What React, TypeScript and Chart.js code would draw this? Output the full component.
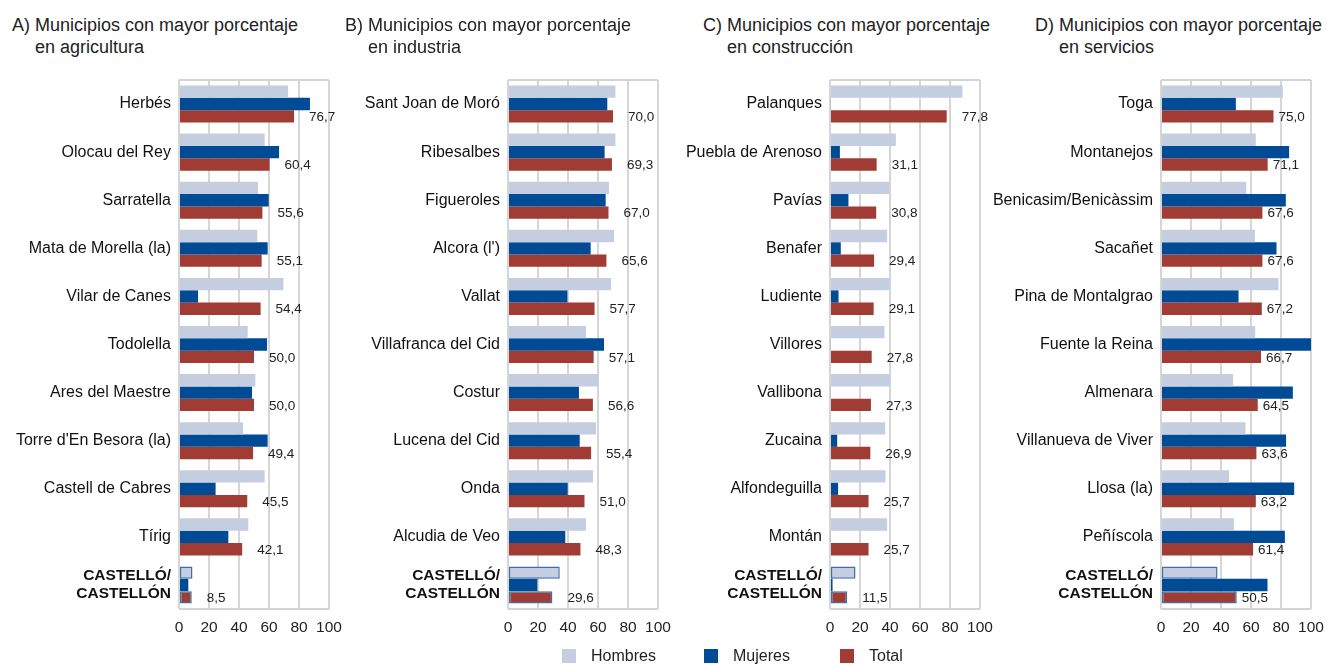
import React, { useEffect, useRef } from 'react';
import { Chart, registerables } from 'chart.js';

Chart.register(...registerables);

const FONT = '"Liberation Sans", Arial, sans-serif';

const seriesNames = ['Hombres', 'Mujeres', 'Total'];
const seriesColors = ['#c5cde0', '#004b96', '#a03c34'];
const regionLabel = ['CASTELLÓ/', 'CASTELLÓN'];
const xTicks = [0, 20, 40, 60, 80, 100];

const catsA = ['Herbés', 'Olocau del Rey', 'Sarratella', 'Mata de Morella (la)', 'Vilar de Canes', 'Todolella', 'Ares del Maestre', "Torre d'En Besora (la)", 'Castell de Cabres', 'Tírig', regionLabel];
const hombresA = [72.7, 57.1, 52.7, 52.2, 69.6, 45.8, 50.9, 42.7, 57.1, 46.2, 9.0];
const mujeresA = [87.3, 66.7, 59.8, 59.1, 12.7, 58.7, 48.7, 59.1, 24.4, 32.9, 6.2];
const totalA = [76.7, 60.4, 55.6, 55.1, 54.4, 50.0, 50.0, 49.4, 45.5, 42.1, 8.5];

const catsB = ['Sant Joan de Moró', 'Ribesalbes', 'Figueroles', "Alcora (l')", 'Vallat', 'Villafranca del Cid', 'Costur', 'Lucena del Cid', 'Onda', 'Alcudia de Veo', regionLabel];
const hombresB = [71.6, 71.6, 67.3, 70.7, 68.7, 52.0, 60.4, 58.7, 56.7, 52.0, 34.5];
const mujeresB = [66.2, 64.4, 65.1, 55.1, 39.6, 64.0, 47.3, 47.8, 39.8, 38.2, 19.6];
const totalB = [70.0, 69.3, 67.0, 65.6, 57.7, 57.1, 56.6, 55.4, 51.0, 48.3, 29.6];

const catsC = ['Palanques', 'Puebla de Arenoso', 'Pavías', 'Benafer', 'Ludiente', 'Villores', 'Vallibona', 'Zucaina', 'Alfondeguilla', 'Montán', regionLabel];
const hombresC = [88.3, 43.9, 39.4, 38.1, 39.7, 36.3, 40.1, 36.8, 37.0, 38.1, 17.0];
const mujeresC = [0.6, 6.6, 12.3, 7.2, 5.7, 0.6, 0.6, 4.8, 5.4, 0.6, 1.7];
const totalC = [77.8, 31.1, 30.8, 29.4, 29.1, 27.8, 27.3, 26.9, 25.7, 25.7, 11.5];

const catsD = ['Toga', 'Montanejos', 'Benicasim/Benicàssim', 'Sacañet', 'Pina de Montalgrao', 'Fuente la Reina', 'Almenara', 'Villanueva de Viver', 'Llosa (la)', 'Peñíscola', regionLabel];
const hombresD = [81.2, 63.2, 56.8, 62.6, 78.3, 62.8, 48.1, 56.3, 45.4, 48.6, 37.7];
const mujeresD = [49.9, 85.4, 83.2, 77.0, 51.7, 100.0, 87.9, 83.4, 88.8, 82.6, 71.0];
const totalD = [75.0, 71.1, 67.6, 67.6, 67.2, 66.7, 64.5, 63.6, 63.2, 61.4, 50.5];

const panels = [
  { prefix: 'A) ', title: 'Municipios con mayor porcentaje', sub: 'en agricultura', cats: catsA, data: [hombresA, mujeresA, totalA], titleX: 12, plotLeft: 178.5, labelOffset: 15 },
  { prefix: 'B) ', title: 'Municipios con mayor porcentaje', sub: 'en industria', cats: catsB, data: [hombresB, mujeresB, totalB], titleX: 345, plotLeft: 508, labelOffset: 15 },
  { prefix: 'C) ', title: 'Municipios con mayor porcentaje', sub: 'en construcción', cats: catsC, data: [hombresC, mujeresC, totalC], titleX: 703, plotLeft: 830, labelOffset: 15 },
  { prefix: 'D) ', title: 'Municipios con mayor porcentaje', sub: 'en servicios', cats: catsD, data: [hombresD, mujeresD, totalD], titleX: 1035, plotLeft: 1160.5, labelOffset: 5 },
];

const Y_WIDTH = 175;
const PLOT_W = 150;
const RIGHT_PAD = 40;
const CANVAS_H = 645;

const framePlugin = {
  id: 'frame',
  beforeDatasetsDraw(chart: any) {
    const { ctx, chartArea } = chart;
    ctx.save();
    ctx.strokeStyle = '#d4d4d4';
    ctx.lineWidth = 2;
    ctx.beginPath();
    ctx.moveTo(chartArea.left, chartArea.top);
    ctx.lineTo(chartArea.right, chartArea.top);
    ctx.moveTo(chartArea.left, chartArea.bottom);
    ctx.lineTo(chartArea.right, chartArea.bottom);
    ctx.stroke();
    ctx.restore();
  },
};

const valueLabelPlugin = {
  id: 'valueLabels',
  afterDatasetsDraw(chart: any, _args: any, opts: any) {
    const { ctx } = chart;
    const meta = chart.getDatasetMeta(2);
    const values = chart.data.datasets[2].data as number[];
    ctx.save();
    ctx.font = `13.5px ${FONT}`;
    ctx.fillStyle = '#222';
    ctx.textAlign = 'left';
    ctx.textBaseline = 'middle';
    meta.data.forEach((bar: any, i: number) => {
      const txt = values[i].toFixed(1).replace('.', ',');
      ctx.fillText(txt, bar.x + (opts.offset || 0), bar.y + 1);
    });
    ctx.restore();
  },
};

function Panel({ p }: { p: (typeof panels)[number] }) {
  const ref = useRef<HTMLCanvasElement | null>(null);
  useEffect(() => {
    if (!ref.current) return;
    const last = p.cats.length - 1;
    const chart = new Chart(ref.current, {
      type: 'bar',
      data: {
        labels: p.cats as any,
        datasets: [0, 1, 2].map((i) => ({
          label: seriesNames[i],
          data: p.data[i],
          backgroundColor: seriesColors[i],
          borderColor: (c: any) => (c.dataIndex === last && i !== 1 ? '#3f6fa6' : seriesColors[i]),
          borderWidth: (c: any) => (c.dataIndex === last && i !== 1 ? 1.5 : 0),
          borderSkipped: false,
          categoryPercentage: 0.77,
          barPercentage: 1,
        })),
      },
      options: {
        indexAxis: 'y',
        animation: false,
        responsive: false,
        layout: { padding: { top: 80, right: RIGHT_PAD, left: 0, bottom: 0 } },
        plugins: {
          legend: { display: false },
          tooltip: { enabled: false },
          valueLabels: { offset: p.labelOffset },
        } as any,
        scales: {
          x: {
            min: 0,
            max: 100,
            afterBuildTicks: (s: any) => {
              s.ticks = xTicks.map((v) => ({ value: v }));
            },
            ticks: { font: { family: FONT, size: 15.5 }, color: '#222', padding: 9, maxRotation: 0, minRotation: 0, autoSkip: false },
            grid: { color: '#d6d6d6', lineWidth: 2, drawTicks: false },
            border: { display: false },
            afterFit: (s: any) => {
              s.height = 36;
            },
          },
          y: {
            ticks: {
              autoSkip: false,
              color: '#111',
              padding: 8,
              font: (c: any) => ({
                family: FONT,
                size: c.index === last ? 15.5 : 16,
                weight: c.index === last ? 'bold' : 'normal',
                lineHeight: 1.18,
              }),
            },
            grid: { display: false, drawTicks: false },
            border: { display: false },
            afterFit: (s: any) => {
              s.width = Y_WIDTH;
            },
          },
        },
      } as any,
      plugins: [framePlugin, valueLabelPlugin],
    });
    return () => chart.destroy();
  }, [p]);

  return (
    <>
      <div
        style={{
          position: 'absolute',
          left: p.titleX,
          top: 14,
          fontFamily: FONT,
          fontSize: 18,
          lineHeight: '22px',
          color: '#222',
          whiteSpace: 'nowrap',
        }}
      >
        <div>{p.prefix + p.title}</div>
        <div>
          <span style={{ visibility: 'hidden' }}>{p.prefix}</span>
          {p.sub}
        </div>
      </div>
      <canvas
        ref={ref}
        width={Y_WIDTH + PLOT_W + RIGHT_PAD}
        height={CANVAS_H}
        style={{ position: 'absolute', left: p.plotLeft - Y_WIDTH, top: 0 }}
      />
    </>
  );
}

const legendItems = [
  { name: seriesNames[0], color: seriesColors[0], x: 562 },
  { name: seriesNames[1], color: seriesColors[1], x: 704 },
  { name: seriesNames[2], color: seriesColors[2], x: 840 },
];

export default function App() {
  return (
    <div style={{ position: 'absolute', left: 0, top: 0, width: 1327, height: 664, background: '#fff', overflow: 'hidden' }}>
      {panels.map((p) => (
        <Panel key={p.prefix} p={p} />
      ))}
      {legendItems.map((l) => (
        <div
          key={l.name}
          style={{
            position: 'absolute',
            left: l.x,
            top: 647,
            display: 'flex',
            alignItems: 'center',
            fontFamily: FONT,
            fontSize: 16,
            color: '#222',
            whiteSpace: 'nowrap',
          }}
        >
          <span style={{ display: 'inline-block', width: 14, height: 14, background: l.color, marginRight: 15 }} />
          <span>{l.name}</span>
        </div>
      ))}
    </div>
  );
}
